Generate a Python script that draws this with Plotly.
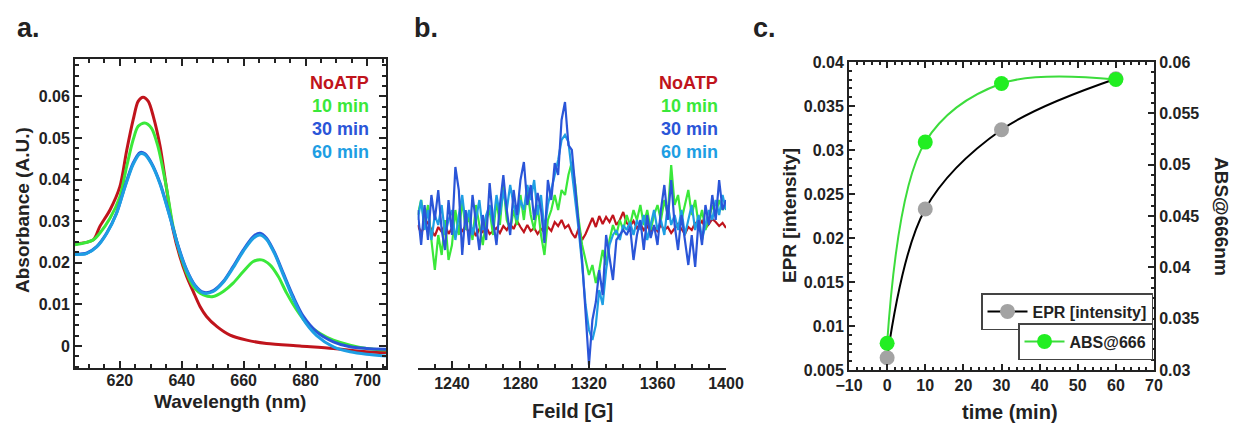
import plotly.graph_objs as go

W, H = 1236, 429
FONT = "Liberation Sans, Arial, sans-serif"

RED = "#c0141c"
GREEN = "#3ae83a"
BLUE = "#2a55d8"
LBLUE = "#1e9ee3"

# ---- panel a: absorbance spectra ----
wl_noatp = [605.5, 611.4, 613.5, 616.8, 620.0, 622.2, 624.3, 625.9, 627.5, 629.2, 630.8, 633.0,
            635.0, 637.2, 639.4, 641.6, 643.7, 645.9, 648.0, 651.3, 655.6, 661.0, 667.4, 678.2,
            689.0, 699.7, 706.0]
abs_noatp = [0.0245, 0.0255, 0.0287, 0.0327, 0.0383, 0.0470, 0.0544, 0.0588, 0.0598, 0.0588, 0.0552, 0.0480,
             0.0383, 0.0279, 0.0215, 0.0167, 0.0131, 0.0095, 0.0071, 0.0047, 0.0026, 0.0014, 0.0006, 0.0,
             -0.0006, -0.0014, -0.0016]

wl_10 = [605.5, 611.4, 613.5, 616.8, 620.0, 622.2, 624.3, 625.9, 628.0, 630.2, 632.3, 635.0,
         637.2, 639.4, 641.6, 643.7, 647.0, 650.2, 653.4, 656.6, 659.9, 663.1, 665.8, 668.5,
         671.2, 673.9, 677.1, 680.3, 684.7, 689.0, 694.4, 699.7, 706.0]
abs_10 = [0.0243, 0.0255, 0.0271, 0.0307, 0.0359, 0.0432, 0.0496, 0.0528, 0.0536, 0.0524, 0.0480, 0.0383,
          0.0287, 0.0223, 0.0175, 0.0143, 0.0123, 0.0119, 0.0131, 0.0151, 0.0179, 0.0203, 0.0207, 0.0195,
          0.0167, 0.0127, 0.0087, 0.0055, 0.0030, 0.0014, 0.0002, -0.0006, -0.0010]

wl_blue = [605.5, 609.2, 612.5, 615.7, 618.9, 621.6, 624.3, 626.5, 628.1, 630.2, 633.0, 636.2,
           638.9, 641.6, 644.2, 647.0, 650.2, 653.4, 656.6, 659.9, 663.1, 665.3, 667.4, 670.1,
           672.8, 676.0, 679.3, 683.6, 689.0, 694.4, 699.7, 706.0]
abs_30 = [0.0221, 0.0223, 0.0239, 0.0271, 0.0319, 0.0383, 0.0440, 0.0465, 0.0462, 0.0440, 0.0391, 0.0311,
          0.0239, 0.0183, 0.0147, 0.0129, 0.0133, 0.0155, 0.0191, 0.0231, 0.0263, 0.0271, 0.0259, 0.0223,
          0.0175, 0.0119, 0.0071, 0.0034, 0.0010, -0.0002, -0.0006, -0.0008]
abs_60 = [0.0220, 0.0222, 0.0238, 0.0270, 0.0318, 0.0381, 0.0437, 0.0462, 0.0460, 0.0438, 0.0389, 0.0309,
          0.0237, 0.0181, 0.0145, 0.0127, 0.0131, 0.0153, 0.0188, 0.0228, 0.0259, 0.0267, 0.0256, 0.0220,
          0.0171, 0.0114, 0.0064, 0.0025, -0.0002, -0.0014, -0.0020, -0.0024]

# ---- panel b: EPR traces (arbitrary units) ----
field = list(range(1220, 1401, 2))
epr_noatp = [5, -3, 4, 8, 0, -6, 3, -2, 6, -4, 2, -5, 3, -1, 4, -3, 2, -6, 1, -2,
             3, -4, -1, 2, -3, 4, 0, 6, 1, 9, 3, -2, 5, -1, 2, -4, 1, -2, 3, -1,
             8, 4, 10, 2, 5, -3, -8, 2, -10, -4, 4, 12, 3, 14, 6, 13, 8, 15, 5, 10,
             18, 7, 4, 9, 2, 6, 0, 4, -2, 3, -1, 5, 0, 3, -3, 2, 6, 1, -4, 3,
             0, 7, 4, 9, 2, 6, 11, 8, 4, 7, 2]
epr_10 = [15, 30, 5, 25, -10, -40, -5, -25, 10, -30, -15, 20, -5, 30, 0, 15, -10, 25, 5, -15,
          10, 20, -5, 30, 5, 45, 10, 0, 20, 5, 35, 10, 40, 15, 0, 25, -5, -25, 10, 20,
          35, 20, 40, 35, 55, 68, 45, 10, -15, -30, -45, -35, -53, -40, -20, -35, -10, 5, -5, 10,
          0, 15, 5, 20, 10, 25, 5, 20, 0, 15, 25, 10, 30, 15, 65, 25, 35, 10, 25, 40,
          15, 30, 5, 20, 0, 10, 25, 15, 30, 20, 25]
epr_30 = [20, -15, 25, -10, 35, 10, 40, 0, -20, 30, -5, 63, 40, -25, 20, -15, 35, 5, -20, 15,
          -10, 47, 10, -15, 25, 55, 20, -5, 40, 15, 50, 68, 25, 45, 10, 37, 20, -13, 50, 30,
          67, 55, 110, 128, 85, 80, 40, 5, -30, -85, -135, -90, -72, -40, -65, -5, -30, -50, -10, -5,
          0, -5, 3, -30, -5, 10, -20, 15, -8, 5, -15, 20, 45, 10, 50, 5, -20, 15, -10, -35,
          -5, -37, 10, -15, 25, 5, 35, 10, 50, 20, 30]
epr_60 = [10, 30, 0, 20, -10, 15, 5, 25, -5, 10, 20, -10, 15, 35, 5, 20, -5, 10, 30, 0,
          15, 25, 5, 35, 15, 40, 20, 45, 25, 10, 30, 20, 45, 30, 50, 15, 35, 0, 25, 40,
          55, 70, 90, 95, 88, 60, 30, 0, -35, -75, -100, -110, -95, -60, -75, -40, -15, -5, 0, -10,
          5, 0, 8, -5, 10, 0, 15, -10, 5, 20, 0, 10, -5, 25, 5, 15, 0, 20, -5, 10,
          25, 0, 15, -10, 5, 20, 10, 30, 15, 35, 20]

# ---- panel c: kinetics ----
time_min = [0, 10, 30, 60]
epr_intensity = [0.0064, 0.0233, 0.0323, 0.0381]
abs_666 = [0.0326, 0.0522, 0.0579, 0.0583]

legend_labels = ["NoATP", "10 min", "30 min", "60 min"]
legend_colors = [RED, GREEN, BLUE, LBLUE]

fig = go.Figure()

# panel a
for x, y, c in [(wl_noatp, abs_noatp, RED), (wl_10, abs_10, GREEN),
                (wl_blue, abs_30, BLUE), (wl_blue, abs_60, LBLUE)]:
    fig.add_trace(go.Scatter(x=x, y=y, mode="lines", line=dict(color=c, width=3, shape="spline", smoothing=0.8),
                             xaxis="x", yaxis="y", showlegend=False))

# panel b
for y, c in [(epr_noatp, RED), (epr_10, GREEN), (epr_60, LBLUE), (epr_30, BLUE)]:
    fig.add_trace(go.Scatter(x=field, y=y, mode="lines", line=dict(color=c, width=2.2),
                             xaxis="x2", yaxis="y2", showlegend=False))

# panel c
fig.add_trace(go.Scatter(x=time_min, y=epr_intensity, mode="lines+markers", name="EPR [intensity]",
                         line=dict(color="black", width=2, shape="spline", smoothing=1.0),
                         marker=dict(color="#a3a3a3", size=15, line=dict(width=0)),
                         xaxis="x3", yaxis="y3", legend="legend"))
fig.add_trace(go.Scatter(x=time_min, y=abs_666, mode="lines+markers", name="ABS@666",
                         line=dict(color="#3cdc3c", width=2, shape="spline", smoothing=1.0),
                         marker=dict(color="#22ee22", size=15, line=dict(width=0)),
                         xaxis="x3", yaxis="y4", legend="legend2"))

tickfont = dict(family=FONT, size=16, color="#222", weight="bold")
frame = dict(showline=True, linecolor="#222", linewidth=2, ticks="inside", tickcolor="#222",
             tickwidth=1.5, showgrid=False, zeroline=False, tickfont=tickfont, automargin=False)

ya_dom = [1 - 368 / H, 1 - 59 / H]
fig.update_layout(
    width=W, height=H,
    margin=dict(l=0, r=0, t=0, b=0),
    paper_bgcolor="white", plot_bgcolor="white",
    font=dict(family=FONT),
    xaxis=dict(frame, domain=[75 / W, 386 / W], range=[605.5, 706], dtick=20, ticklen=7, mirror="ticks",
               ticklabelstandoff=-3,
               minor=dict(dtick=5, ticklen=4, ticks="inside", tickcolor="#222"), anchor="y"),
    yaxis=dict(frame, domain=ya_dom, range=[-0.0053, 0.069], dtick=0.01, ticklen=7, mirror="ticks",
               tickformat=".2~f", minor=dict(dtick=0.0025, ticklen=4, ticks="inside", tickcolor="#222"),
               anchor="x"),
    xaxis2=dict(frame, domain=[417.7 / W, 726 / W], range=[1220, 1400], dtick=40, tick0=1240, ticklen=7,
                minor=dict(dtick=10, ticklen=4, ticks="inside", tickcolor="#222"), anchor="y2"),
    yaxis2=dict(domain=ya_dom, range=[-138, 171], visible=False, anchor="x2", automargin=False),
    xaxis3=dict(frame, domain=[849 / W, 1154 / W], range=[-10, 70], dtick=10, ticklen=6, mirror="ticks",
                minor=dict(dtick=2, ticklen=3, ticks="inside", tickcolor="#222"), anchor="y3"),
    yaxis3=dict(frame, domain=[1 - 370 / H, 1 - 62 / H], range=[0.005, 0.04], dtick=0.005, ticklen=6,
                tickformat="~g", minor=dict(dtick=0.001, ticklen=3, ticks="inside", tickcolor="#222"),
                anchor="x3"),
    yaxis4=dict(frame, range=[0.03, 0.06], dtick=0.005, ticklen=6, side="right", overlaying="y3",
                tickformat="~g", minor=dict(dtick=0.001, ticklen=3, ticks="inside", tickcolor="#222"),
                anchor="x3"),
    legend=dict(x=1153 / W, xanchor="right", y=1 - 293 / H, yanchor="top", bgcolor="white",
                bordercolor="#444", borderwidth=1.5, font=dict(family=FONT, size=16, color="#222", weight="bold"),
                itemwidth=40),
    legend2=dict(x=1153 / W, xanchor="right", y=1 - 323 / H, yanchor="top", bgcolor="white",
                 bordercolor="#444", borderwidth=1.5, font=dict(family=FONT, size=16, color="#222", weight="bold"),
                 itemwidth=40),
)

def txt(x, y, s, size=20, color="#222", angle=0, xanchor="center"):
    fig.add_annotation(x=x / W, y=1 - y / H, xref="paper", yref="paper", text=s, showarrow=False,
                       textangle=angle, xanchor=xanchor, yanchor="middle",
                       font=dict(family=FONT, size=size, color=color, weight="bold"))

# panel labels
txt(28, 28, "a.", size=27)
txt(426, 28, "b.", size=27)
txt(765, 28, "c.", size=27)

# axis titles
txt(230, 401, "Wavelength (nm)", size=19)
txt(22, 210, "Absorbance (A.U.)", size=19, angle=-90)
txt(572, 411, "Feild [G]", size=20)
txt(1010, 412, "time (min)", size=20)
txt(789, 216, "EPR [intensity]", size=19, angle=-90)
txt(1222, 216, "ABS@666nm", size=19, angle=90)

# in-plot labels
for i, (lab, col) in enumerate(zip(legend_labels, legend_colors)):
    txt(371, 83 + i * 23, lab, size=18, color=col, xanchor="right")
    txt(720, 83 + i * 23, lab, size=18, color=col, xanchor="right")

# page body has a default margin; drop it so the figure sits at the window origin
fig.write_html("out.html", config={"displayModeBar": False},
               post_script="document.body.style.margin='0';")
